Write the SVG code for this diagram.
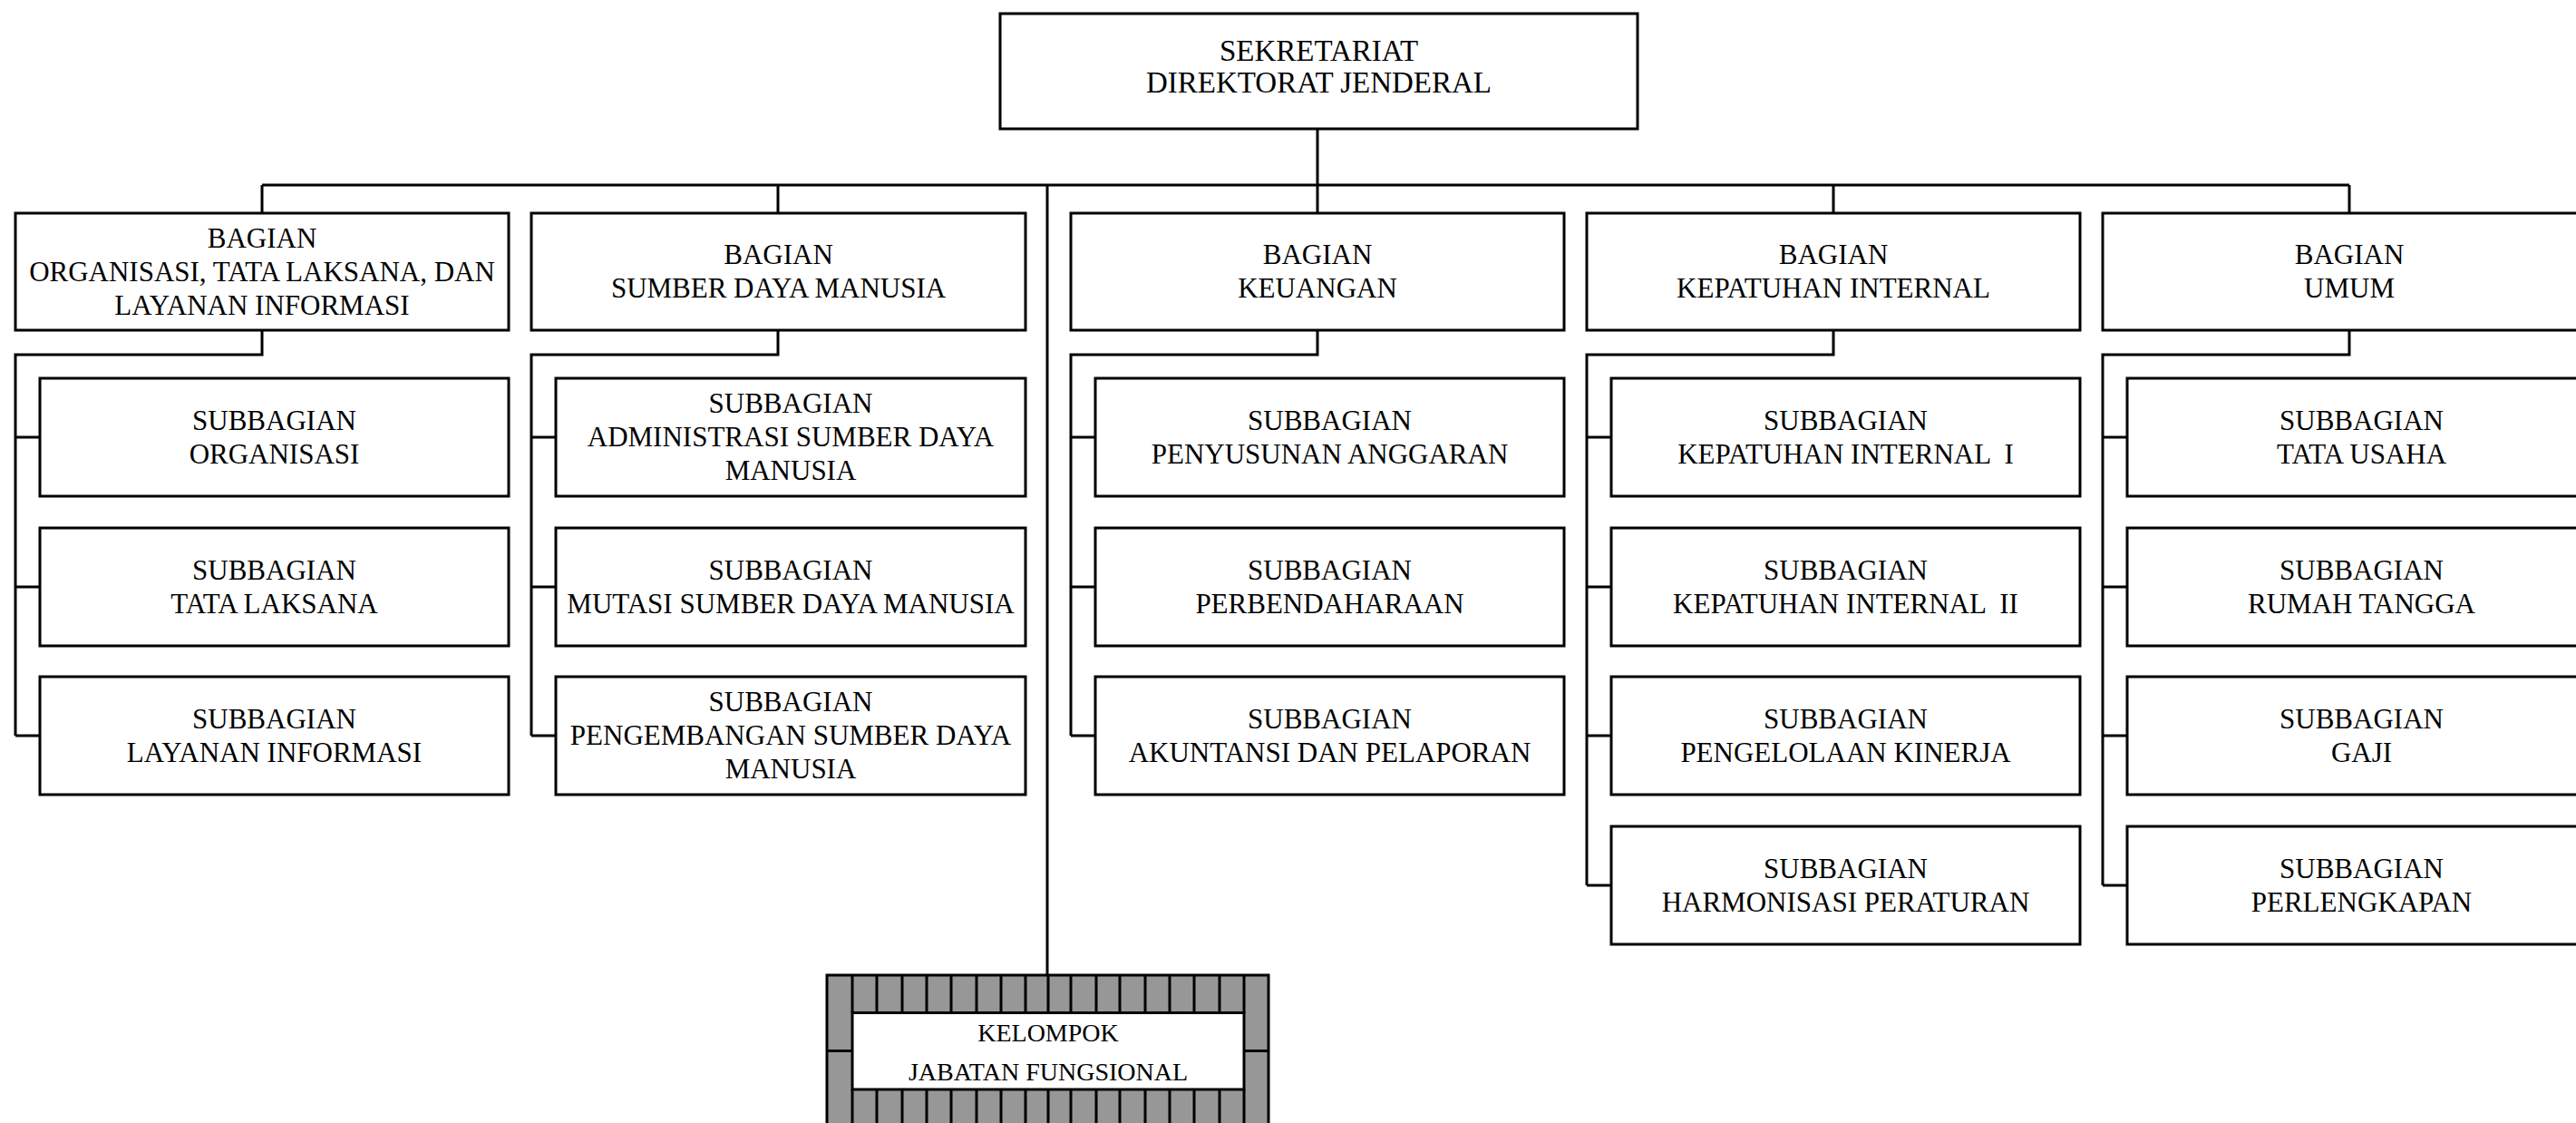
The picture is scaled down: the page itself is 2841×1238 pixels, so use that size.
<svg xmlns="http://www.w3.org/2000/svg" width="2841" height="1238" viewBox="0 0 2841 1238">
<style>
.box{fill:#fff;stroke:#000;stroke-width:3}
.ln{fill:none;stroke:#000;stroke-width:3}
text{font-family:"Liberation Serif","Times New Roman",serif;font-size:31px;fill:#000;text-anchor:middle;white-space:pre}
.top{font-size:33px}
.kel{font-size:28px}
.tile{fill:#979797;stroke:#000;stroke-width:3}
</style>
<rect width="2841" height="1238" fill="#fff"/>
<g id="connectors" class="ln">
<path d="M1453 142V204M289 204H2591M289 204V235M858 204V235M1453 204V235M2022 204V235M2591 204V235M1155 204V1075"/>
<path d="M289 364V391H17V811M17 482H44M17 647H44M17 811H44"/>
<path d="M858 364V391H586V811M586 482H613M586 647H613M586 811H613"/>
<path d="M1453 364V391H1181V811M1181 482H1208M1181 647H1208M1181 811H1208"/>
<path d="M2022 364V391H1750V976M1750 482H1777M1750 647H1777M1750 811H1777M1750 976H1777"/>
<path d="M2591 364V391H2319V976M2319 482H2346M2319 647H2346M2319 811H2346M2319 976H2346"/>
</g>
<g id="sekretariat"><rect class="box" x="1103" y="15" width="703" height="127"/><text class="top" x="1454.5" y="67">SEKRETARIAT</text><text class="top" x="1454.5" y="102">DIREKTORAT JENDERAL</text></g>
<g id="bagian-otl"><rect class="box" x="17" y="235" width="544" height="129"/><text x="289" y="273">BAGIAN</text><text x="289" y="310">ORGANISASI, TATA LAKSANA, DAN</text><text x="289" y="347">LAYANAN INFORMASI</text></g>
<g id="bagian-sdm"><rect class="box" x="586" y="235" width="545" height="129"/><text x="858.5" y="291">BAGIAN</text><text x="858.5" y="328">SUMBER DAYA MANUSIA</text></g>
<g id="bagian-keu"><rect class="box" x="1181" y="235" width="544" height="129"/><text x="1453" y="291">BAGIAN</text><text x="1453" y="328">KEUANGAN</text></g>
<g id="bagian-ki"><rect class="box" x="1750" y="235" width="544" height="129"/><text x="2022" y="291">BAGIAN</text><text x="2022" y="328">KEPATUHAN INTERNAL</text></g>
<g id="bagian-umum"><rect class="box" x="2319" y="235" width="544" height="129"/><text x="2591" y="291">BAGIAN</text><text x="2591" y="328">UMUM</text></g>
<g id="sub-organisasi"><rect class="box" x="44" y="417" width="517" height="130"/><text x="302.5" y="474">SUBBAGIAN</text><text x="302.5" y="511">ORGANISASI</text></g>
<g id="sub-tata-laksana"><rect class="box" x="44" y="582" width="517" height="130"/><text x="302.5" y="639">SUBBAGIAN</text><text x="302.5" y="676">TATA LAKSANA</text></g>
<g id="sub-layanan-informasi"><rect class="box" x="44" y="746" width="517" height="130"/><text x="302.5" y="803">SUBBAGIAN</text><text x="302.5" y="840">LAYANAN INFORMASI</text></g>
<g id="sub-adm-sdm"><rect class="box" x="613" y="417" width="518" height="130"/><text x="872" y="455">SUBBAGIAN</text><text x="872" y="492">ADMINISTRASI SUMBER DAYA</text><text x="872" y="529">MANUSIA</text></g>
<g id="sub-mutasi-sdm"><rect class="box" x="613" y="582" width="518" height="130"/><text x="872" y="639">SUBBAGIAN</text><text x="872" y="676">MUTASI SUMBER DAYA MANUSIA</text></g>
<g id="sub-pengembangan-sdm"><rect class="box" x="613" y="746" width="518" height="130"/><text x="872" y="784">SUBBAGIAN</text><text x="872" y="821">PENGEMBANGAN SUMBER DAYA</text><text x="872" y="858">MANUSIA</text></g>
<g id="sub-anggaran"><rect class="box" x="1208" y="417" width="517" height="130"/><text x="1466.5" y="474">SUBBAGIAN</text><text x="1466.5" y="511">PENYUSUNAN ANGGARAN</text></g>
<g id="sub-perbendaharaan"><rect class="box" x="1208" y="582" width="517" height="130"/><text x="1466.5" y="639">SUBBAGIAN</text><text x="1466.5" y="676">PERBENDAHARAAN</text></g>
<g id="sub-akuntansi"><rect class="box" x="1208" y="746" width="517" height="130"/><text x="1466.5" y="803">SUBBAGIAN</text><text x="1466.5" y="840">AKUNTANSI DAN PELAPORAN</text></g>
<g id="sub-ki1"><rect class="box" x="1777" y="417" width="517" height="130"/><text x="2035.5" y="474">SUBBAGIAN</text><text x="2035.5" y="511">KEPATUHAN INTERNAL  I</text></g>
<g id="sub-ki2"><rect class="box" x="1777" y="582" width="517" height="130"/><text x="2035.5" y="639">SUBBAGIAN</text><text x="2035.5" y="676">KEPATUHAN INTERNAL  II</text></g>
<g id="sub-kinerja"><rect class="box" x="1777" y="746" width="517" height="130"/><text x="2035.5" y="803">SUBBAGIAN</text><text x="2035.5" y="840">PENGELOLAAN KINERJA</text></g>
<g id="sub-harmonisasi"><rect class="box" x="1777" y="911" width="517" height="130"/><text x="2035.5" y="968">SUBBAGIAN</text><text x="2035.5" y="1005">HARMONISASI PERATURAN</text></g>
<g id="sub-tata-usaha"><rect class="box" x="2346" y="417" width="517" height="130"/><text x="2604.5" y="474">SUBBAGIAN</text><text x="2604.5" y="511">TATA USAHA</text></g>
<g id="sub-rumah-tangga"><rect class="box" x="2346" y="582" width="517" height="130"/><text x="2604.5" y="639">SUBBAGIAN</text><text x="2604.5" y="676">RUMAH TANGGA</text></g>
<g id="sub-gaji"><rect class="box" x="2346" y="746" width="517" height="130"/><text x="2604.5" y="803">SUBBAGIAN</text><text x="2604.5" y="840">GAJI</text></g>
<g id="sub-perlengkapan"><rect class="box" x="2346" y="911" width="517" height="130"/><text x="2604.5" y="968">SUBBAGIAN</text><text x="2604.5" y="1005">PERLENGKAPAN</text></g>
<g id="kelompok-jabatan-fungsional">
<rect class="tile" x="912" y="1075" width="487" height="168"/>
<rect class="box" x="940" y="1116.5" width="432" height="84.5"/>
<path class="ln" d="M967 1075V1116.5M995 1075V1116.5M1022 1075V1116.5M1049 1075V1116.5M1077 1075V1116.5M1104 1075V1116.5M1131 1075V1116.5M1156 1075V1116.5M1181 1075V1116.5M1209 1075V1116.5M1235 1075V1116.5M1263 1075V1116.5M1290 1075V1116.5M1317 1075V1116.5M1345 1075V1116.5M940 1075V1116.5M1372 1075V1116.5M967 1201V1243M995 1201V1243M1022 1201V1243M1049 1201V1243M1077 1201V1243M1104 1201V1243M1131 1201V1243M1156 1201V1243M1181 1201V1243M1209 1201V1243M1235 1201V1243M1263 1201V1243M1290 1201V1243M1317 1201V1243M1345 1201V1243M940 1201V1243M1372 1201V1243M912 1158.5H940M1372 1158.5H1399"/>
<text class="kel" x="1156" y="1148">KELOMPOK</text>
<text class="kel" x="1156" y="1190.5">JABATAN FUNGSIONAL</text>
</g>
</svg>
